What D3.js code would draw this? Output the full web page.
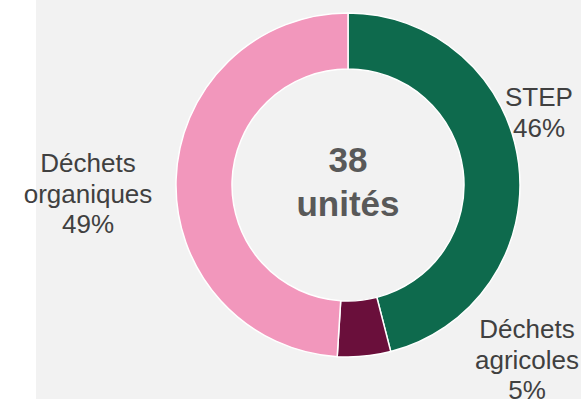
<!DOCTYPE html>
<html>
<head>
<meta charset="utf-8">
<script src="https://cdn.jsdelivr.net/npm/d3@7"></script>
<style>
  body { margin: 0; background: #fff; }
  svg { display: block; }
  text { font-family: "Liberation Sans", Arial, sans-serif; }
</style>
</head>
<body>
<div id="chart"></div>
<script>
var categories = ["STEP", "Déchets agricoles", "Déchets organiques"];
var labelLines = [["STEP", "46%"], ["Déchets", "agricoles", "5%"], ["Déchets", "organiques", "49%"]];
var shares = [46, 5, 49];
var colors = ["#0e6a4d", "#6a0f3b", "#f297bc"];
var centerText = ["38", "unités"];

var width = 581, height = 399;
var cx = 348, cy = 185, outerR = 172, innerR = 116;

// where each label block sits (centre x, first baseline)
var labelPos = [[539, 106], [527, 338], [88, 172]];

var svg = d3.select("#chart").append("svg")
    .attr("width", width)
    .attr("height", height);

svg.append("rect")
    .attr("x", 36).attr("y", 0)
    .attr("width", width - 36).attr("height", height)
    .attr("fill", "#f2f2f2");

var pie = d3.pie().sort(null).value(function(d) { return d; });
var arc = d3.arc().innerRadius(innerR).outerRadius(outerR);

var g = svg.append("g").attr("transform", "translate(" + cx + "," + cy + ")");

g.selectAll("path.slice")
  .data(pie(shares))
  .enter().append("path")
    .attr("class", "slice")
    .attr("d", arc)
    .attr("fill", function(d, i) { return colors[i]; })
    .attr("stroke", "#fff")
    .attr("stroke-width", 1.5);

labelLines.forEach(function(lines, i) {
  var t = svg.append("text")
      .attr("text-anchor", "middle")
      .attr("fill", "#404040")
      .style("font-size", "26px");
  lines.forEach(function(l, j) {
    t.append("tspan")
      .attr("x", labelPos[i][0])
      .attr("y", labelPos[i][1] + j * 30.5)
      .text(l);
  });
});

svg.append("text")
    .attr("x", cx).attr("y", 172)
    .attr("text-anchor", "middle")
    .attr("fill", "#595959")
    .style("font-size", "35px").style("font-weight", "bold")
    .text(centerText[0]);

svg.append("text")
    .attr("x", cx).attr("y", 216)
    .attr("text-anchor", "middle")
    .attr("fill", "#595959")
    .style("font-size", "35px").style("font-weight", "bold")
    .text(centerText[1]);
</script>
</body>
</html>
